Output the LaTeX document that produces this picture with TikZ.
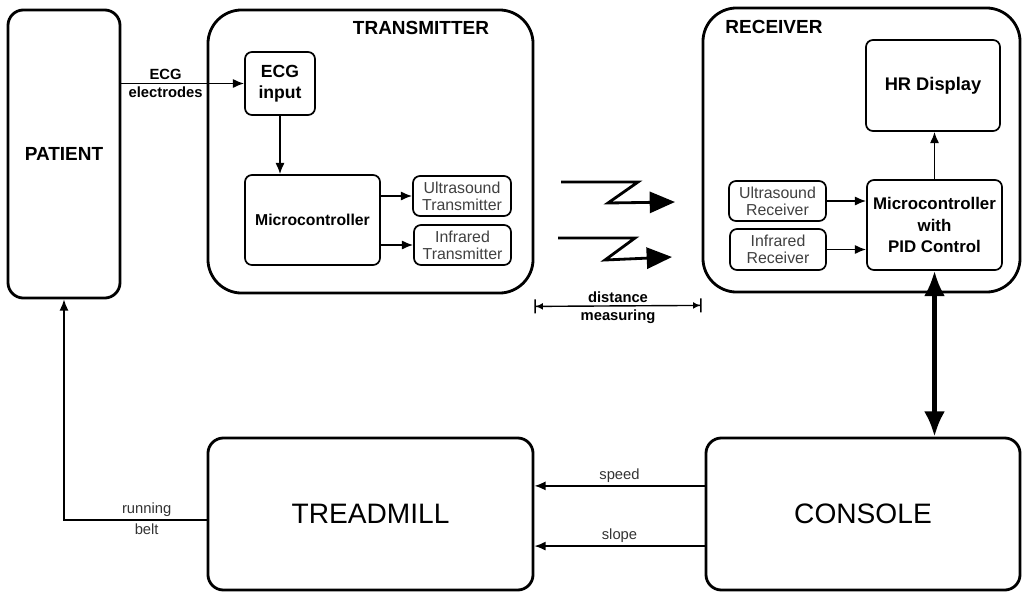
\documentclass[tikz,border=0pt]{standalone}
\usepackage{fontspec}
\setmainfont{Liberation Sans}
\usepackage{tikz}
\usetikzlibrary{arrows.meta,calc,positioning}

\begin{document}
\begin{tikzpicture}[x=0.025cm, y=-0.025cm,
		outer/.style={draw, line width=2pt, rounded corners=24pt, inner sep=0pt},
		block/.style={draw, line width=2pt, rounded corners=11pt, inner sep=0pt, align=center},
		unit/.style={draw, line width=1.2pt, rounded corners=5pt, inner sep=0pt, align=center},
		small/.style={unit, text=black!75, font=\fontsize{11.3}{12}\selectfont},
		title/.style={font=\bfseries\fontsize{13.5}{15}\selectfont},
		lbl/.style={font=\fontsize{10.5}{12}\selectfont, text=black!80, inner sep=2pt},
		blbl/.style={font=\bfseries\fontsize{10.5}{12}\selectfont, inner sep=2pt},
		arr/.style={line width=1.1pt, -{Latex[length=8pt,width=6.5pt]}},
		zig/.style={line width=2pt, -{Triangle[length=18pt,width=15pt]}},
		dim/.style={line width=1pt, {Bar[width=10pt]Latex[length=5pt,width=5pt]}-{Latex[length=5pt,width=5pt]Bar[width=10pt]}}
		]
	\useasboundingbox (0,0) rectangle (1025,593);

		\node[block, minimum width=2.8cm, minimum height=7.2cm, title] (patient) at (64,154) {PATIENT};

		\node[outer, minimum width=8.125cm, minimum height=7.075cm] (tx) at (370.5,151.5) {};
		\node[title] (txname) at (421,28) {TRANSMITTER};
		\node[unit, minimum width=1.75cm, minimum height=1.575cm, font=\bfseries\fontsize{12.5}{15}\selectfont] (ecg) at (280,83.5) {ECG\\input};
		\node[unit, minimum width=3.375cm, minimum height=2.25cm, font=\bfseries\fontsize{11.2}{12}\selectfont] (mcu) at (312.5,220) {Microcontroller};
		\node[small, minimum width=2.45cm, minimum height=1cm] (ustx) at (462,196) {Ultrasound\\Transmitter};
		\node[small, minimum width=2.425cm, minimum height=1cm] (irtx) at (462.5,245) {Infrared\\Transmitter};

		\node[outer, minimum width=7.925cm, minimum height=7.1cm] (rx) at (861.5,150) {};
		\node[title] (rxname) at (774,27) {RECEIVER};
		\node[unit, minimum width=3.35cm, minimum height=2.275cm, font=\bfseries\fontsize{13}{15}\selectfont] (hr) at (933,85.5) {HR Display};
		\node[unit, minimum width=3.375cm, minimum height=2.25cm, font=\bfseries\fontsize{12}{15.5}\selectfont] (pid) at (934.5,225) {Microcontroller\\with\\PID Control};
		\node[small, minimum width=2.425cm, minimum height=1cm] (usrx) at (777.5,201) {Ultrasound\\Receiver};
		\node[small, minimum width=2.4cm, minimum height=1.025cm] (irrx) at (778,249.5) {Infrared\\Receiver};

		\node[block, minimum width=8.125cm, minimum height=3.8cm, font=\fontsize{20}{24}\selectfont] (tread) at (370.5,514) {TREADMILL};
		\node[block, minimum width=7.85cm, minimum height=3.8cm, font=\fontsize{20}{24}\selectfont] (console) at (863,514) {CONSOLE};

		\draw[arr] (patient.east |- ecg.west) to node[pos=0.36, above, blbl] {ECG} node[pos=0.36, below, blbl] {electrodes} (ecg.west);
		\draw[arr] (ecg.south) to (ecg.south |- mcu.north);
		\draw[arr] (mcu.east |- ustx.west) to (ustx.west);
		\draw[arr] (mcu.east |- irtx.west) to (irtx.west);

		\draw[arr] (usrx.east) to (usrx.east -| pid.west);
		\draw[arr] (irrx.east) to (irrx.east -| pid.west);
		\draw[arr] (pid.north) to (pid.north |- hr.south);
		\draw[line width=3pt, {Latex[length=18pt,width=15pt]}-{Latex[length=18pt,width=15pt]}] (pid.south) to (pid.south |- console.north);

		\draw[zig] (561,182) -- (638,182) -- (608,203) -- (675,202);
		\draw[zig] (558,238) -- (635,238) -- (605,260) -- (672,257);
		\draw[dim] ([yshift=-8.5pt]tx.south east) to node[above, blbl] {distance} node[below, blbl] {measuring} ([yshift=-8.5pt]rx.south west);

		\draw[arr] ([yshift=20pt]console.west) to node[midway, above, lbl] {speed} ([yshift=20pt]console.west -| tread.east);
		\draw[arr] ([yshift=-22.8pt]console.west) to node[midway, above, lbl] {slope} ([yshift=-22.8pt]console.west -| tread.east);
		\draw[arr] ([yshift=-4.3pt]tread.west) -| node[pos=0.21, above, lbl] {running} node[pos=0.21, below, lbl] {belt} (patient.south);

	\end{tikzpicture}
\end{document}
